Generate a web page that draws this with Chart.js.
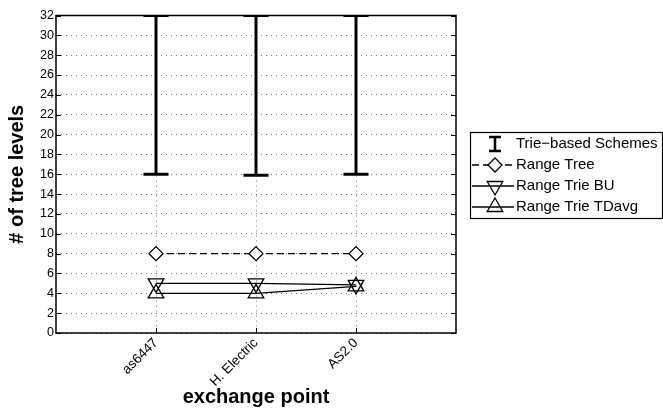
<!DOCTYPE html>
<html>
<head>
<meta charset="utf-8">
<script src="https://cdn.jsdelivr.net/npm/chart.js@4.4.0/dist/chart.umd.min.js"></script>
<style>
  html, body { margin: 0; padding: 0; background: #fff; }
  #wrap { width: 663px; height: 409px; position: relative; }
</style>
</head>
<body>
<div id="wrap"><canvas id="chart" width="663" height="409"></canvas></div>
<script>
const categories = ['as6447', 'H. Electric', 'AS2.0'];
const trieLow = [16, 15.9, 16];
const trieHigh = [32, 32, 32];
const rangeTree = [8, 8, 8];
const rangeTrieBU = [5, 5, 4.85];
const rangeTrieTDavg = [4, 4, 4.7];
const yTicks = [0, 2, 4, 6, 8, 10, 12, 14, 16, 18, 20, 22, 24, 26, 28, 30, 32];

const xy = (vals) => vals.map((v, i) => ({ x: i + 1, y: v }));

// error bars: pairs of points separated by null gaps
const errorPoints = [];
categories.forEach((c, i) => {
    errorPoints.push({ x: i + 1, y: trieLow[i] });
    errorPoints.push({ x: i + 1, y: trieHigh[i] });
    errorPoints.push({ x: i + 1.5, y: null });
});

const font = "'Liberation Sans', Arial, sans-serif";

const boxPlugin = {
    id: 'box',
    afterDraw(chart) {
        const ctx = chart.ctx;
        const a = chart.chartArea;
        const ys = chart.scales.y;
        const xs = chart.scales.x;
        ctx.save();
        ctx.strokeStyle = '#000';
        ctx.lineWidth = 1.5;
        ctx.strokeRect(a.left, a.top, a.right - a.left, a.bottom - a.top);
        ctx.lineWidth = 1;
        yTicks.forEach(t => {
            const py = Math.round(ys.getPixelForValue(t)) + 0.5;
            ctx.beginPath();
            ctx.moveTo(a.left, py); ctx.lineTo(a.left + 5, py);
            ctx.moveTo(a.right, py); ctx.lineTo(a.right - 5, py);
            ctx.stroke();
        });
        categories.forEach((c, i) => {
            const px = Math.round(xs.getPixelForValue(i + 1)) + 0.5;
            ctx.beginPath();
            ctx.moveTo(px, a.bottom); ctx.lineTo(px, a.bottom - 5);
            ctx.moveTo(px, a.top); ctx.lineTo(px, a.top + 5);
            ctx.stroke();
        });
        ctx.restore();
    }
};

const legendPlugin = {
    id: 'customLegend',
    afterDraw(chart) {
        const ctx = chart.ctx;
        const ds = chart.data.datasets;
        const left = 470, top = 132, right = 662, bottom = 218;
        ctx.save();
        ctx.fillStyle = '#fff';
        ctx.fillRect(left, top, right - left, bottom - top);
        ctx.strokeStyle = '#000';
        ctx.lineWidth = 1.2;
        ctx.strokeRect(left + 0.5, top + 0.5, right - left, bottom - top);
        const rows = [144, 165, 186, 207];
        const sx = 495;
        ctx.font = '15px ' + font;
        ctx.textBaseline = 'middle';
        rows.forEach((ry, k) => {
            const d = ds[k];
            ctx.strokeStyle = '#000';
            if (k === 0) {
                ctx.lineWidth = 2.5;
                ctx.beginPath();
                ctx.moveTo(sx, ry - 7); ctx.lineTo(sx, ry + 7);
                ctx.moveTo(sx - 6, ry - 7); ctx.lineTo(sx + 6, ry - 7);
                ctx.moveTo(sx - 6, ry + 7); ctx.lineTo(sx + 6, ry + 7);
                ctx.stroke();
            } else {
                ctx.lineWidth = 1.3;
                ctx.setLineDash(d.borderDash || []);
                ctx.beginPath();
                ctx.moveTo(472, ry); ctx.lineTo(514, ry);
                ctx.stroke();
                ctx.setLineDash([]);
                ctx.fillStyle = k === 1 ? '#fff' : 'rgba(255,255,255,0)';
                Chart.helpers.drawPoint(ctx, {
                    pointStyle: d.pointStyle,
                    rotation: d.pointRotation || 0,
                    radius: d.pointRadius,
                    borderWidth: 1.3
                }, sx, ry);
            }
            ctx.fillStyle = '#000';
            ctx.fillText(d.label, 516, ry);
        });
        ctx.restore();
    }
};

new Chart(document.getElementById('chart'), {
    type: 'line',
    data: {
        datasets: [
            {
                label: 'Trie\u2212based Schemes',
                data: errorPoints,
                borderColor: '#000',
                borderWidth: 3,
                pointStyle: 'line',
                pointRadius: 12.5,
                pointBorderWidth: 3,
                pointBorderColor: '#000',
                spanGaps: false
            },
            {
                label: 'Range Tree',
                data: xy(rangeTree),
                borderColor: '#000',
                borderWidth: 1.3,
                borderDash: [7, 4],
                pointStyle: 'rectRot',
                pointRadius: 7,
                pointBorderWidth: 1.3,
                pointBackgroundColor: '#fff',
                pointBorderColor: '#000'
            },
            {
                label: 'Range Trie BU',
                data: xy(rangeTrieBU),
                borderColor: '#000',
                borderWidth: 1.3,
                pointStyle: 'triangle',
                pointRotation: 180,
                pointRadius: 9,
                pointBorderWidth: 1.3,
                pointBackgroundColor: 'rgba(255,255,255,0)',
                pointBorderColor: '#000'
            },
            {
                label: 'Range Trie TDavg',
                data: xy(rangeTrieTDavg),
                borderColor: '#000',
                borderWidth: 1.3,
                pointStyle: 'triangle',
                pointRotation: 0,
                pointRadius: 9,
                pointBorderWidth: 1.3,
                pointBackgroundColor: 'rgba(255,255,255,0)',
                pointBorderColor: '#000'
            }
        ]
    },
    options: {
        responsive: false,
        animation: false,
        layout: { padding: { top: 14, right: 207, left: 0, bottom: 0 } },
        plugins: {
            legend: { display: false },
            tooltip: { enabled: false }
        },
        elements: { line: { tension: 0 } },
        scales: {
            x: {
                type: 'linear',
                min: 0,
                max: 4,
                afterBuildTicks(scale) {
                    scale.ticks = categories.map((c, i) => ({ value: i + 1 }));
                },
                afterFit(scale) { scale.height = 76; },
                ticks: {
                    callback: (v) => categories[v - 1] || '',
                    maxRotation: 45,
                    minRotation: 45,
                    color: '#000',
                    font: { family: font, size: 13.5 },
                    padding: 2
                },
                grid: {
                    color: '#777',
                    lineWidth: 1,
                    drawTicks: false
                },
                border: { display: false, dash: [1, 4] },
                title: {
                    display: true,
                    text: 'exchange point',
                    color: '#000',
                    font: { family: font, size: 20, weight: 'bold' },
                    padding: { top: 0, bottom: 0 }
                }
            },
            y: {
                min: 0,
                max: 32,
                afterBuildTicks(scale) {
                    scale.ticks = yTicks.map(v => ({ value: v }));
                },
                afterFit(scale) { scale.width = 56; },
                ticks: {
                    color: '#000',
                    font: { family: font, size: 12.5 },
                    padding: 2
                },
                grid: {
                    color: '#777',
                    lineWidth: 1,
                    drawTicks: false
                },
                border: { display: false, dash: [1, 4] },
                title: {
                    display: true,
                    text: '# of tree levels',
                    color: '#000',
                    font: { family: font, size: 20, weight: 'bold' },
                    padding: { top: 5, bottom: 0 }
                }
            }
        }
    },
    plugins: [boxPlugin, legendPlugin]
});
</script>
</body>
</html>
